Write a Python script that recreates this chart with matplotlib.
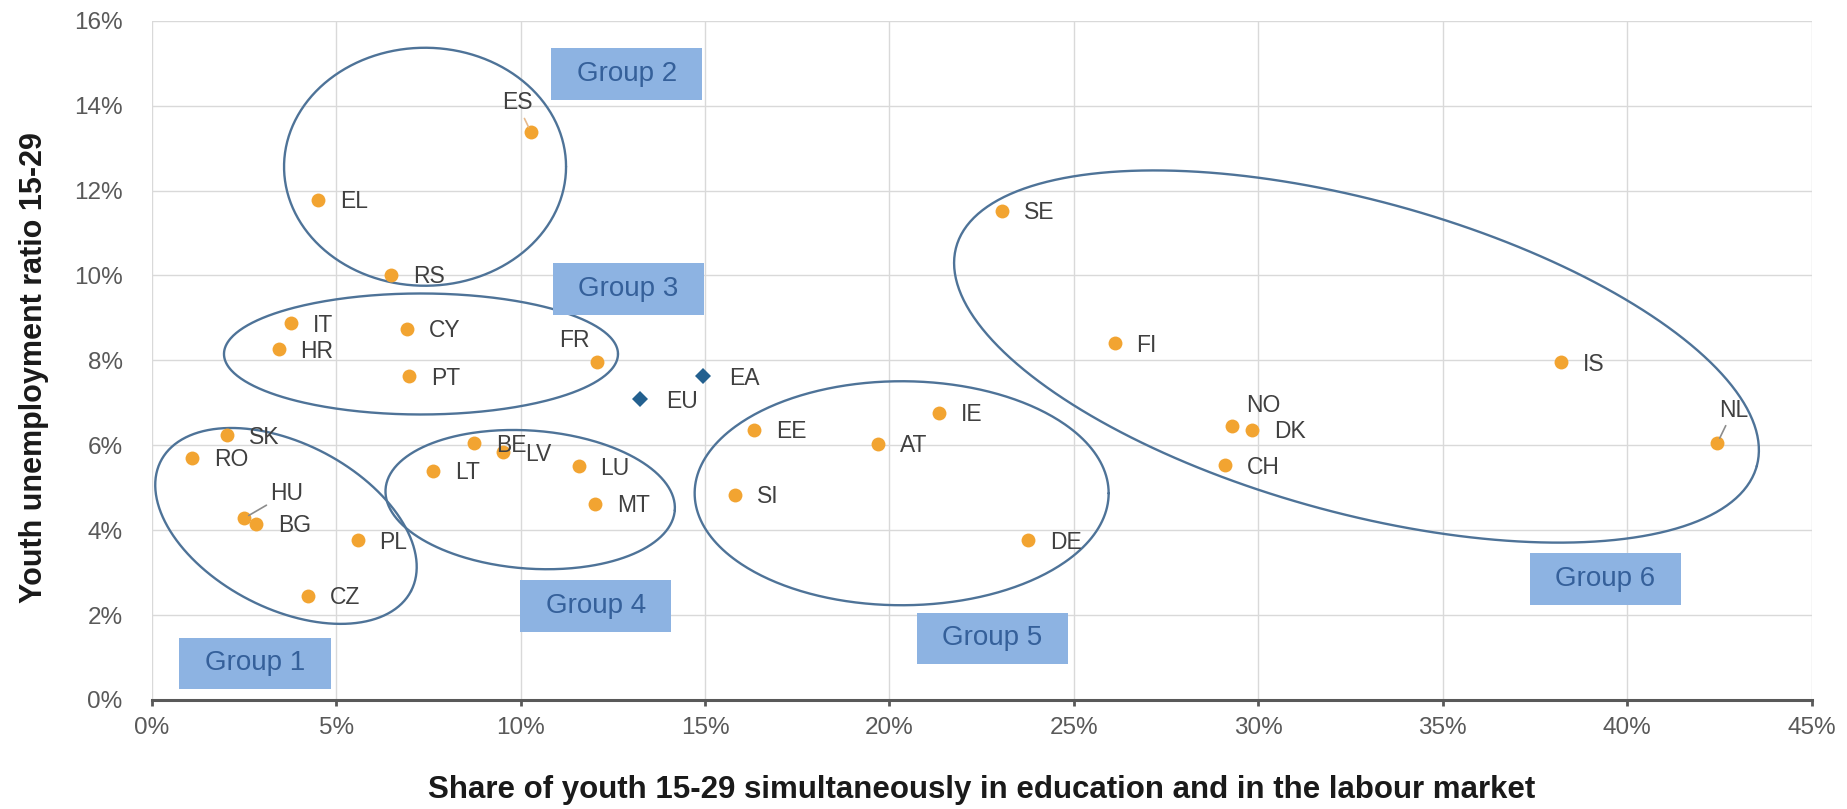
import numpy as np
import matplotlib
matplotlib.use("Agg")
import matplotlib.pyplot as plt
from matplotlib.patches import Rectangle

# ---------------- data ----------------
countries = ['RO', 'SK', 'HU', 'BG', 'CZ', 'PL', 'IT', 'HR', 'EL', 'RS', 'CY', 'PT',
             'ES', 'FR', 'LT', 'BE', 'LV', 'LU', 'MT', 'EE', 'SI', 'AT', 'IE', 'DE',
             'SE', 'FI', 'NO', 'DK', 'CH', 'IS', 'NL']
share = [1.09, 2.05, 2.50, 2.82, 4.23, 5.58, 3.77, 3.44, 4.52, 6.49, 6.92, 6.98,
         10.28, 12.08, 7.63, 8.75, 9.53, 11.57, 12.01, 16.34, 15.82, 19.68, 21.33, 23.75,
         23.04, 26.10, 29.28, 29.82, 29.10, 38.20, 42.44]
unemp = [5.70, 6.23, 4.28, 4.15, 2.45, 3.76, 8.87, 8.26, 11.78, 10.02, 8.74, 7.63,
         13.38, 7.96, 5.40, 6.05, 5.83, 5.50, 4.62, 6.36, 4.83, 6.03, 6.77, 3.76,
         11.52, 8.40, 6.45, 6.37, 5.53, 7.95, 6.05]

agg_names = ['EU', 'EA']
agg_share = [13.25, 14.95]
agg_unemp = [7.08, 7.62]

x_ticks = [0, 5, 10, 15, 20, 25, 30, 35, 40, 45]
y_ticks = [0, 2, 4, 6, 8, 10, 12, 14, 16]
x_tick_labels = [f"{v}%" for v in x_ticks]
y_tick_labels = [f"{v}%" for v in y_ticks]

x_title = "Share of youth 15-29 simultaneously in education and in the labour market"
y_title = "Youth unemployment ratio 15-29"

group_names = ['Group 1', 'Group 2', 'Group 3', 'Group 4', 'Group 5', 'Group 6']

# ---------------- styling / layout ----------------
FONT = 'Liberation Sans'
W, H = 1847, 809
fig = plt.figure(figsize=(W / 100, H / 100), dpi=100)
ax_l, ax_r, ax_t, ax_b = 151.7, 1811.7, 20.7, 700.0
ax = fig.add_axes([ax_l / W, 1 - ax_b / H, (ax_r - ax_l) / W, (ax_b - ax_t) / H])
ax.set_xlim(0, 45)
ax.set_ylim(0, 16)
sx = (ax_r - ax_l) / 45.0   # px per % on x
sy = (ax_b - ax_t) / 16.0   # px per % on y

grid_c = '#D9D9D9'
ax.set_xticks(x_ticks)
ax.set_yticks(y_ticks)
ax.set_xticklabels(x_tick_labels, fontfamily=FONT, fontsize=17.5, color='#595959')
ax.set_yticklabels(y_tick_labels, fontfamily=FONT, fontsize=17.5, color='#595959')
ax.grid(True, color=grid_c, lw=1.0, zorder=0)
ax.set_axisbelow(True)
for s in ['top', 'right', 'left']:
    ax.spines[s].set_visible(False)
ax.spines['bottom'].set_color('#595959')
ax.spines['bottom'].set_linewidth(2.2)
ax.spines['bottom'].set_zorder(3)
ax.tick_params(axis='x', direction='out', length=4.5, width=2.0, color='#595959', pad=8)
ax.tick_params(axis='y', length=0, pad=21)

fig.text((ax_l + ax_r) / 2 / W, 1 - 790 / H, x_title, ha='center', va='center',
         fontfamily=FONT, fontweight='bold', fontsize=22.5, color='#1a1a1a')
fig.text(34 / W, 1 - 368 / H, y_title, ha='center', va='center', rotation=90,
         fontfamily=FONT, fontweight='bold', fontsize=22, color='#1a1a1a')

# ---------------- group ellipses (centre in %, semi-axes in px, angle deg) -------
ellipses = [
    (3.64, 4.10, 141, 82.5, -27.5),
    (7.41, 12.56, 141, 119, 0.0),
    (7.30, 8.15, 197, 60.5, 0.0),
    (10.26, 4.72, 145, 69, -4.2),
    (20.33, 4.87, 207, 112, 0.0),
    (32.66, 8.09, 415, 156, -15.3),
]
t = np.linspace(0, 2 * np.pi, 400)
for cx, cy, a, b, ang in ellipses:
    th = np.deg2rad(ang)
    px = a * np.cos(th) * np.cos(t) - b * np.sin(th) * np.sin(t)
    py = a * np.sin(th) * np.cos(t) + b * np.cos(th) * np.sin(t)
    ax.plot(cx + px / sx, cy + py / sy, color='#4E7398', lw=1.7, zorder=2,
            solid_capstyle='round')

# ---------------- group boxes ----------------
box_centres = [(2.80, 0.86), (12.88, 14.74), (12.92, 9.68),
               (12.04, 2.21), (22.79, 1.45), (39.40, 2.85)]
bw, bh = 4.1, 1.22
for name, (bx, by) in zip(group_names, box_centres):
    ax.add_patch(Rectangle((bx - bw / 2, by - bh / 2), bw, bh, facecolor='#8DB3E2',
                           edgecolor='none', zorder=3))
    ax.text(bx, by, name, ha='center', va='center', fontfamily=FONT, fontsize=20,
            color='#35609A', zorder=4)

# ---------------- points ----------------
ax.plot(share, unemp, 'o', color='#F2A431', markersize=10, markeredgewidth=0, zorder=5)
ax.plot(agg_share, agg_unemp, 'D', color='#23608F', markersize=8.5, markeredgewidth=0, zorder=5)

lab_c = '#404040'
special = {
    'ES': (-14, 29, '#E7B98A'),
    'FR': (-23, 22, None),
    'HU': (43, 25, '#8C8C8C'),
    'NO': (32, 21, None),
    'NL': (16, 33, '#8C8C8C'),
}
for name, x, y in zip(countries, share, unemp):
    if name in special:
        dx, dy, lc = special[name]
        kw = {}
        if lc is not None:
            kw['arrowprops'] = dict(arrowstyle='-', color=lc, lw=1.2, shrinkA=1, shrinkB=4)
        ax.annotate(name, (x, y), xytext=(dx, dy), textcoords='offset pixels',
                    ha='center', va='center', fontfamily=FONT, fontsize=16.5,
                    color=lab_c, zorder=6, **kw)
    else:
        ax.annotate(name, (x, y), xytext=(22, -2), textcoords='offset pixels',
                    ha='left', va='center', fontfamily=FONT, fontsize=16.5,
                    color=lab_c, zorder=6)
for name, x, y in zip(agg_names, agg_share, agg_unemp):
    ax.annotate(name, (x, y), xytext=(26, -2), textcoords='offset pixels',
                ha='left', va='center', fontfamily=FONT, fontsize=16.5,
                color=lab_c, zorder=6)

fig.savefig('out.png', dpi=100)
